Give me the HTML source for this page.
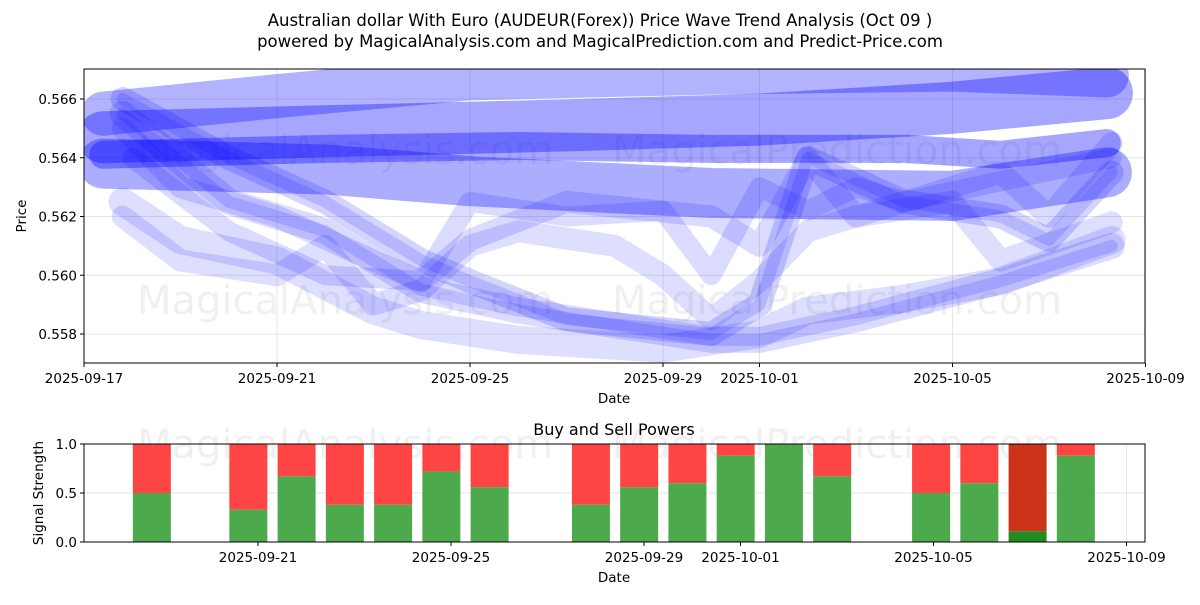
<!DOCTYPE html>
<html><head><meta charset="utf-8"><style>
body{margin:0;background:#fff;font-family:"Liberation Sans","DejaVu Sans",sans-serif}
svg text{font-family:"DejaVu Sans","Liberation Sans",sans-serif}
</style></head><body>
<svg id="c" width="1200" height="600" xmlns="http://www.w3.org/2000/svg">
<rect width="1200" height="600" fill="#fff"/>
<text x="600" y="26" text-anchor="middle" font-size="16.5">Australian dollar With Euro (AUDEUR(Forex)) Price Wave Trend Analysis (Oct 09 )</text>
<text x="600" y="47" text-anchor="middle" font-size="16.5">powered by MagicalAnalysis.com and MagicalPrediction.com and Predict-Price.com</text>
<g id="topg"></g><g id="botg"></g>
</svg>
<script>
const NS="http://www.w3.org/2000/svg";
// ---- data ----
const topTickLabels=["2025-09-17","2025-09-21","2025-09-25","2025-09-29","2025-10-01","2025-10-05","2025-10-09"];
const topTickDays=[0,4,8,12,14,18,22];
const yTicks=[0.558,0.560,0.562,0.564,0.566];
const bandA=[[0.4,0.5655],[4,0.5661],[8,0.5667],[13,0.5669],[18,0.5670],[21.2,0.5668]];
const bandB=[[0.4,0.5647],[5,0.5649],[10,0.5651],[14,0.5653],[18,0.5657],[21.2,0.5662]];
const bandC=[[0.4,0.5638],[5,0.5636],[8,0.5632],[13,0.5628],[18,0.5627],[21.2,0.5635]];
const bandD=[[0.4,0.5641],[5,0.5643],[9,0.5644],[13,0.5643],[17,0.5643],[19,0.5641],[21.2,0.5645]];
const line1=[[0.8,0.5655],[3,0.5625],[5,0.5615],[7,0.5595],[9,0.5588],[13,0.5578],[14,0.5578],[16,0.5585],[19,0.5598],[21.3,0.5610]];
const line2=[[0.8,0.5650],[2,0.5630],[4,0.5620],[6,0.5605],[7,0.5598],[8,0.5612],[10,0.5625],[13,0.5620],[14,0.5610],[15,0.5640],[16,0.5620],[19,0.5635],[20,0.5620],[21.3,0.5645]];
const line3=[[0.8,0.5660],[3,0.5640],[5,0.5625],[7,0.5605],[8,0.5598],[10,0.5585],[13,0.5580],[14,0.5590],[15,0.5640],[17,0.5625],[19,0.5620],[20,0.5612],[21.3,0.5635]];
const line4=[[0.8,0.5620],[2,0.5605],[4,0.5600],[5,0.5610],[6,0.5590],[7,0.5595],[8,0.5610],[9,0.5615],[11,0.5610],[12,0.5600],[13,0.5585],[14,0.5598],[15,0.5615],[16,0.5620],[18,0.5625],[19,0.5605],[21.3,0.5618]];
const line5=[[0.8,0.5625],[2,0.5612],[4,0.5605],[6,0.5588],[7,0.5583],[9,0.5578],[12,0.5575],[14,0.5580],[15,0.5588],[17,0.5592],[19,0.5598],[21.3,0.5612]];
const line6=[[1,0.5640],[3,0.5615],[5,0.5600],[7,0.5598],[8,0.5625],[10,0.5620],[12,0.5622],[13,0.5600],[14,0.5630],[15,0.5622],[16,0.5630],[17,0.5625],[19,0.5632],[21.3,0.5640]];
const barDays=[-2.2,-0.2,0.8,1.8,2.8,3.8,4.8,6.9,7.9,8.9,9.9,10.9,11.9,13.95,14.95,15.95,16.95];
const buyVals=[0.5,0.33,0.67,0.38,0.38,0.72,0.56,0.38,0.56,0.6,0.88,1.0,0.67,0.5,0.6,0.11,0.88];
const botTickLabels=["2025-09-21","2025-09-25","2025-09-29","2025-10-01","2025-10-05","2025-10-09"];
const botTickDays=[0,4,8,10,14,18];
const sigTicks=[0,0.5,1.0];
// ---- scales ----
const X0=84,X1=1145,PX=48.25;
const xT=d=>X0+d*PX;
const yT=v=>99+(0.566-v)/0.002*58.75;
const xB=d=>258+d*PX;
const yB=v=>542-v*98;
function el(tag,attrs,parent,txt){const e=document.createElementNS(NS,tag);for(const k in attrs)e.setAttribute(k,attrs[k]);if(txt!==undefined)e.textContent=txt;parent.appendChild(e);return e;}
const topG=document.getElementById('topg'),botG=document.getElementById('botg');
const defs=el('defs',{},topG);
const cp=el('clipPath',{id:'cp'},defs);el('rect',{x:X0,y:69,width:X1-X0,height:294},cp);
yTicks.forEach(v=>{el('line',{x1:X0,x2:X1,y1:yT(v),y2:yT(v),stroke:'#e6e6e6'},topG);});
topTickDays.forEach(d=>{el('line',{x1:xT(d),x2:xT(d),y1:69,y2:363,stroke:'#e6e6e6'},topG);});
[[345,150],[837,150],[345,300],[837,300]].forEach((p,i)=>{const t=el('text',{x:p[0],y:p[1]+14,'text-anchor':'middle','font-size':40,fill:'#000','fill-opacity':0.06},topG,i%2?'MagicalPrediction.com':'MagicalAnalysis.com');

});
const g=el('g',{'clip-path':'url(#cp)'},topG);
const pts=a=>a.map(p=>xT(p[0]).toFixed(1)+','+yT(p[1]).toFixed(1)).join(' ');
function band(a,w,op,name){const p=el('polyline',{points:pts(a),fill:'none',stroke:'#0000ff','stroke-opacity':op,'stroke-width':w,'stroke-linecap':'round','stroke-linejoin':'round'},g);

}
band(bandA,44,0.3,'wave-band-a');
band(bandB,52,0.35,'wave-band-b');
band(bandC,50,0.32,'wave-band-c');
band(bandD,28,0.35,'wave-band-d');
[[line1,26,0.14],[line2,22,0.14],[line3,24,0.17],[line4,22,0.13],[line5,28,0.13],[line6,20,0.14],[line1,12,0.14],[line3,12,0.14]].forEach((l,i)=>band(l[0],l[1],l[2],'wave-line-'+(i+1)));
el('rect',{x:X0,y:69,width:X1-X0,height:294,fill:'none',stroke:'#000'},topG);
yTicks.forEach(v=>{el('line',{x1:X0-4,x2:X0,y1:yT(v),y2:yT(v),stroke:'#000'},topG);
const t=el('text',{x:X0-7,y:yT(v)+5,'text-anchor':'end','font-size':13.5},topG,v.toFixed(3));});
topTickDays.forEach((d,i)=>{el('line',{x1:xT(d),x2:xT(d),y1:363,y2:367,stroke:'#000'},topG);
const t=el('text',{x:xT(d),y:383,'text-anchor':'middle','font-size':13.5},topG,topTickLabels[i]);});
el('text',{x:614,y:403,'text-anchor':'middle','font-size':13.5,},topG,'Date');
el('text',{x:26,y:216,'text-anchor':'middle','font-size':13.5,transform:'rotate(-90 26 216)',},topG,'Price');
el('text',{x:614,y:435,'text-anchor':'middle','font-size':16,},botG,'Buy and Sell Powers');
sigTicks.forEach(v=>{el('line',{x1:X0,x2:X1,y1:yB(v),y2:yB(v),stroke:'#e6e6e6'},botG);});
botTickDays.forEach(d=>{el('line',{x1:xB(d),x2:xB(d),y1:444,y2:542,stroke:'#e6e6e6'},botG);});
[[345,444],[837,444]].forEach((p,i)=>{const t=el('text',{x:p[0],y:p[1]+14,'text-anchor':'middle','font-size':40,fill:'#000','fill-opacity':0.06},botG,i?'MagicalPrediction.com':'MagicalAnalysis.com');});
barDays.forEach((d,i)=>{const cx=xB(d),w=38,v=buyVals[i];const dark=v<0.2;
const s=el('rect',{x:cx-w/2,y:yB(1),width:w,height:yB(v)-yB(1),fill:dark?'#cc3318':'#ff4444'},botG);


const b=el('rect',{x:cx-w/2,y:yB(v),width:w,height:yB(0)-yB(v),fill:dark?'#228b22':'#4caa4c'},botG);

});
el('rect',{x:X0,y:444,width:X1-X0,height:98,fill:'none',stroke:'#000'},botG);
sigTicks.forEach(v=>{el('line',{x1:X0-4,x2:X0,y1:yB(v),y2:yB(v),stroke:'#000'},botG);
const t=el('text',{x:X0-7,y:yB(v)+5,'text-anchor':'end','font-size':13.5},botG,v.toFixed(1));});
botTickDays.forEach((d,i)=>{el('line',{x1:xB(d),x2:xB(d),y1:542,y2:546,stroke:'#000'},botG);
const t=el('text',{x:xB(d),y:562,'text-anchor':'middle','font-size':13.5},botG,botTickLabels[i]);});
el('text',{x:614,y:582,'text-anchor':'middle','font-size':13.5,},botG,'Date');
el('text',{x:43,y:493,'text-anchor':'middle','font-size':13.5,transform:'rotate(-90 43 493)',},botG,'Signal Strength');
</script>
</body></html>
